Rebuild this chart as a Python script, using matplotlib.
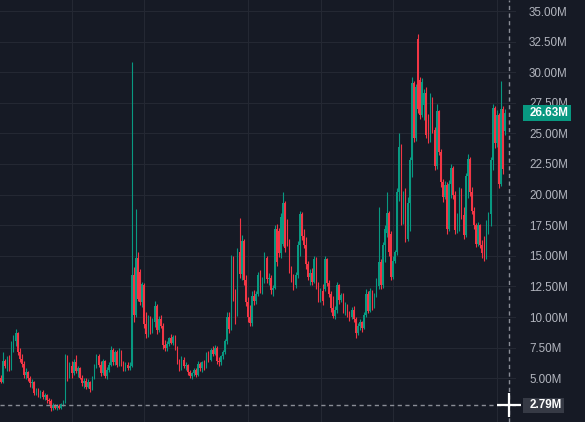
import numpy as np
import matplotlib
matplotlib.use("Agg")
import matplotlib.pyplot as plt
from matplotlib.patches import Rectangle
import matplotlib.transforms as mtransforms

# OHLC values in millions left to right
opens = [5.0, 4.7, 6.4, 6.0, 6.5, 5.8, 7.6, 8.0, 8.7, 7.1, 6.6, 6.2, 5.3, 5.5, 5.0, 4.6, 4.7, 3.8, 4.0, 3.7,
         3.9, 3.5, 3.6, 3.2, 3.1, 2.6, 2.8, 2.6, 2.7, 2.6, 2.9, 3.1,
         6.8, 5.2, 6.0, 5.4, 6.3, 5.6, 5.8, 5.0, 4.6, 4.8, 4.3, 4.7, 4.1, 5.0, 6.0, 6.8, 6.1, 5.4, 6.4, 5.2,
         5.7, 6.1, 7.3, 6.3, 7.1, 6.1, 7.2, 6.2, 5.9, 6.1, 5.8, 6.0, 13.4, 10.2, 14.8, 13.7, 11.2, 12.6, 9.4, 8.6,
         9.9, 8.9, 9.6, 10.9, 8.9, 9.8, 9.3, 7.7, 7.5, 7.8, 8.3, 7.9, 8.4, 7.5, 6.4, 5.8, 6.5, 6.0, 6.1, 5.5,
         5.2, 5.4, 5.7, 5.3, 6.2, 5.8, 6.3, 5.9, 6.9, 6.5, 7.3, 7.0, 7.5, 6.4, 6.3, 6.8, 7.1, 8.0, 10.0, 9.0,
         14.6, 11.6, 10.3, 15.3, 13.5, 16.2, 13.0, 11.2, 10.0, 9.5, 11.7, 11.3, 11.9, 13.4, 12.3, 13.0, 14.8, 13.1,
         13.2, 12.2, 12.4, 17.2, 17.0, 15.2, 16.0, 19.3, 17.8, 16.1, 13.9, 13.2, 12.6, 13.4, 15.9, 18.4, 16.6, 15.9,
         14.3, 13.3, 13.6, 12.9, 14.7, 12.6, 11.5, 12.1, 12.3, 14.7, 12.8, 11.9, 10.7, 10.1, 10.6, 12.6, 11.4, 11.8,
         10.6, 10.9, 10.3, 10.0, 10.6, 9.8, 8.7, 9.3, 9.6, 9.1, 10.2, 11.9, 10.5, 12.1, 10.9, 11.8, 12.5, 14.5,
         12.6, 15.9, 16.9, 18.5, 16.8, 13.3, 14.6, 15.3, 20.2, 23.9, 17.8, 19.9, 16.4, 19.3, 22.8, 29.1, 24.6, 32.7,
         29.4, 26.5, 27.3, 28.3, 25.8, 24.5, 27.9, 25.3, 22.3, 26.8, 23.5, 21.0, 19.8, 20.8, 17.2, 20.9, 22.2, 20.0,
         17.1, 18.2, 20.3, 18.3, 16.7, 21.5, 22.9, 20.2, 18.7, 17.5, 16.0, 17.5, 15.9, 15.2, 14.9, 17.6, 18.4, 22.8,
         27.1, 24.2, 26.5, 20.9, 27.0, 25.2]
highs = [5.3, 7.1, 6.6, 6.8, 6.9, 8.0, 8.5, 9.0, 8.8, 7.5, 7.0, 6.4, 5.8, 5.6, 5.2, 4.9, 4.8, 4.2, 4.2, 4.0,
         4.0, 3.8, 3.7, 3.4, 3.3, 3.0, 2.9, 2.9, 2.9, 3.0, 3.2, 7.0,
         6.9, 6.3, 6.4, 6.6, 6.9, 6.0, 5.9, 5.3, 5.0, 5.0, 4.9, 4.8, 5.2, 6.2, 7.0, 7.0, 6.4, 6.6, 6.5, 5.9,
         6.3, 7.6, 7.5, 7.3, 7.3, 7.5, 7.3, 6.4, 6.3, 6.3, 6.3, 30.8, 14.1, 18.8, 15.3, 13.9, 12.9, 12.8, 10.4, 10.2,
         10.1, 9.9, 11.3, 11.1, 10.1, 10.2, 9.5, 8.1, 8.0, 8.4, 8.6, 8.5, 8.5, 7.6, 6.6, 6.8, 6.7, 6.3, 6.2, 5.7,
         5.5, 5.8, 5.8, 6.4, 6.3, 6.4, 6.5, 7.1, 7.2, 7.5, 7.6, 7.7, 7.6, 6.7, 6.9, 7.3, 8.2, 10.4, 10.4, 15.1,
         15.0, 12.3, 15.6, 18.1, 16.7, 16.4, 13.4, 11.6, 11.0, 12.1, 12.2, 12.1, 13.7, 13.8, 13.3, 15.3, 15.0, 13.6,
         13.4, 12.6, 17.5, 17.6, 17.3, 18.5, 20.2, 19.5, 18.0, 16.4, 14.2, 13.5, 13.7, 16.2, 18.7, 18.6, 17.2, 16.5,
         14.6, 13.9, 14.0, 15.0, 14.9, 12.9, 12.4, 12.7, 15.0, 14.8, 13.0, 12.1, 11.7, 10.9, 12.9, 12.7, 12.0, 12.0,
         11.2, 11.1, 10.5, 10.8, 10.9, 10.0, 9.5, 9.8, 9.7, 10.4, 12.3, 12.1, 12.4, 12.2, 12.0, 13.2, 19.0, 14.7,
         16.1, 17.5, 20.2, 18.7, 17.0, 15.0, 15.5, 20.5, 25.0, 24.1, 20.3, 20.5, 19.8, 23.1, 29.6, 29.3, 29.0, 33.1,
         29.6, 29.5, 28.6, 28.8, 26.6, 28.3, 28.0, 25.5, 27.4, 26.9, 23.7, 21.3, 21.1, 21.0, 21.2, 22.5, 22.3, 20.3,
         18.5, 20.6, 20.5, 19.0, 21.8, 23.3, 23.1, 20.6, 19.0, 17.7, 17.8, 17.6, 16.3, 16.6, 17.9, 18.6, 23.1, 27.4,
         27.2, 26.9, 26.7, 29.3, 27.2, 27.0]
lows = [4.6, 4.6, 5.8, 5.6, 5.6, 5.7, 7.1, 7.6, 6.9, 6.3, 5.9, 5.0, 4.9, 4.8, 4.3, 4.2, 3.6, 3.6, 3.5, 3.4,
        3.3, 3.2, 3.0, 2.9, 2.3, 2.4, 2.5, 2.4, 2.5, 2.5, 2.7, 3.0,
        4.8, 5.0, 5.0, 5.3, 5.4, 5.1, 4.9, 4.4, 4.2, 4.1, 4.2, 3.9, 4.0, 4.9, 5.8, 5.9, 5.2, 5.3, 5.0, 4.9,
        5.5, 6.0, 6.1, 6.1, 5.9, 6.0, 6.0, 5.6, 5.6, 5.7, 5.7, 5.9, 9.6, 10.0, 11.3, 11.0, 10.8, 9.1, 8.3, 8.4,
        8.6, 8.7, 9.2, 8.6, 8.8, 9.1, 7.4, 7.2, 7.2, 7.6, 7.8, 7.7, 7.3, 6.2, 5.6, 5.7, 5.8, 5.7, 5.3, 5.0,
        4.9, 5.2, 5.1, 5.2, 5.6, 5.5, 5.7, 5.8, 6.3, 6.4, 6.8, 6.9, 6.2, 6.0, 6.1, 6.6, 7.0, 7.8, 8.7, 8.9,
        11.3, 9.4, 10.1, 13.2, 13.0, 12.6, 10.9, 9.6, 9.3, 9.3, 11.0, 11.1, 11.7, 12.0, 11.9, 12.8, 12.8, 12.6,
        11.9, 11.7, 12.3, 14.2, 14.9, 14.8, 15.8, 15.3, 15.8, 13.6, 12.9, 12.2, 12.4, 13.2, 15.0, 16.3, 15.6, 13.9,
        13.0, 12.6, 12.6, 12.8, 12.3, 11.2, 11.2, 11.0, 12.1, 12.5, 11.6, 10.4, 9.9, 9.8, 10.3, 11.1, 11.2, 10.3,
        10.2, 10.0, 9.7, 9.8, 9.6, 8.3, 8.5, 8.9, 8.8, 9.0, 10.0, 10.3, 10.4, 10.6, 10.7, 11.6, 12.3, 12.3,
        12.4, 14.5, 16.5, 15.0, 13.0, 13.1, 14.4, 15.1, 19.5, 17.5, 17.6, 16.1, 16.2, 17.0, 21.4, 24.3, 24.4, 26.7,
        26.2, 26.3, 26.1, 24.6, 24.2, 24.3, 25.0, 22.0, 22.1, 23.2, 20.6, 19.4, 19.6, 16.8, 17.0, 19.7, 19.6, 16.8,
        16.9, 17.0, 18.0, 16.4, 16.5, 19.7, 19.9, 18.4, 17.2, 15.7, 15.8, 15.6, 14.8, 14.6, 14.7, 16.8, 17.4, 22.0,
        23.8, 23.9, 20.5, 20.7, 21.7, 24.9]
closes = [4.7, 6.4, 6.0, 6.5, 5.8, 7.6, 8.0, 8.7, 7.1, 6.6, 6.2, 5.3, 5.5, 5.0, 4.6, 4.7, 3.8, 4.0, 3.7, 3.9,
          3.5, 3.6, 3.2, 3.1, 2.6, 2.8, 2.6, 2.7, 2.6, 2.9, 3.1, 6.8,
          5.2, 6.0, 5.4, 6.3, 5.6, 5.8, 5.0, 4.6, 4.8, 4.3, 4.7, 4.1, 5.0, 6.0, 6.8, 6.1, 5.4, 6.4, 5.2, 5.7,
          6.1, 7.3, 6.3, 7.1, 6.1, 7.2, 6.2, 5.9, 6.1, 5.8, 6.0, 13.4, 10.2, 14.8, 11.5, 11.2, 12.7, 9.4, 8.6, 9.9,
          8.9, 9.6, 10.9, 8.9, 9.8, 9.3, 7.7, 7.5, 7.8, 8.3, 7.9, 8.4, 7.5, 6.4, 5.8, 6.5, 6.0, 6.1, 5.5, 5.2,
          5.4, 5.7, 5.3, 6.2, 5.8, 6.3, 5.9, 6.9, 6.5, 7.3, 7.0, 7.5, 6.4, 6.3, 6.8, 7.1, 8.0, 10.0, 9.0, 14.6,
          11.6, 9.9, 15.3, 13.5, 16.2, 13.0, 11.2, 10.0, 9.5, 11.7, 11.3, 11.9, 13.4, 12.3, 13.0, 14.8, 13.1, 13.2,
          12.2, 12.4, 17.2, 14.5, 15.2, 18.2, 19.3, 15.6, 16.1, 13.9, 13.2, 12.6, 13.4, 15.9, 18.4, 16.6, 15.9, 14.3,
          13.3, 13.6, 12.9, 14.7, 12.6, 11.5, 12.1, 11.3, 14.7, 12.8, 11.9, 10.7, 10.1, 10.6, 12.6, 11.4, 11.8, 10.6,
          10.9, 10.3, 10.0, 10.6, 9.8, 8.7, 9.3, 9.6, 9.1, 10.2, 11.9, 10.5, 12.1, 10.9, 11.8, 13.0, 14.5, 12.6,
          15.9, 17.2, 18.5, 15.3, 13.3, 14.6, 15.3, 20.2, 23.9, 17.8, 19.9, 16.4, 19.3, 22.8, 29.1, 24.6, 28.8, 27.0,
          26.5, 29.2, 28.3, 24.9, 24.5, 27.9, 25.3, 22.3, 26.8, 23.5, 21.0, 19.8, 20.8, 17.2, 20.9, 22.2, 20.0, 17.1,
          18.2, 20.3, 18.3, 16.7, 21.5, 22.9, 20.2, 18.7, 17.5, 16.0, 17.5, 15.9, 15.2, 14.9, 17.6, 18.4, 22.8, 27.1,
          24.2, 26.5, 20.9, 27.0, 22.1, 26.63]

price_ticks = [5.0, 7.5, 10.0, 12.5, 15.0, 17.5, 20.0, 22.5, 25.0, 27.5, 30.0, 32.5, 35.0]
last_price = 26.63
cursor_price = 2.79

# colours (TradingView dark)
bg = "#161a25"
grid_col = "#242833"
up_col = "#089981"
down_col = "#f23645"
text_col = "#b2b5be"
dash_col = "#8a8d96"

W, H = 585, 422
axes_w = 516          # pixel width of plot pane, rest is the price scale
px_per_bar = 2.074
px_per_unit = 30.6 / 2.5   # pixels per million

fig = plt.figure(figsize=(W / 100, H / 100), dpi=100, facecolor=bg)
ax = fig.add_axes([0, 0, axes_w / W, 1])
ax.set_facecolor(bg)

n = len(closes)
x = np.arange(n)
o = np.array(opens)
c = np.array(closes)
hi = np.array(highs)
lo = np.array(lows)
colors = np.where(c >= o, up_col, down_col)

# wicks and bodies
ax.vlines(x, lo, hi, colors=colors, linewidth=0.8, zorder=3)
body_h = np.maximum(np.abs(c - o), 0.08)
ax.bar(x, body_h, bottom=np.minimum(o, c), width=0.72, color=colors, linewidth=0, zorder=4)

# axis ranges so that 1 bar ~ 2.07 px
x0 = -0.5
ax.set_xlim(x0, x0 + axes_w / px_per_bar)
y_top = 35.0 + 11 / px_per_unit
ax.set_ylim(y_top - H / px_per_unit, y_top)

# grid
grid_px = [72, 144, 248, 321, 393, 497.5]
ax.set_xticks([p / px_per_bar + x0 for p in grid_px])
ax.set_yticks(price_ticks)
ax.grid(True, color=grid_col, linewidth=0.8, zorder=0)
ax.tick_params(axis="x", length=0, labelbottom=False)
ax.tick_params(axis="y", length=0, left=False, labelleft=False, labelright=True,
               pad=9.4, labelsize=8.4, labelcolor=text_col)
ax.set_yticklabels([f"{v:.2f}M" for v in price_ticks], fontfamily="Liberation Sans")
for s in ax.spines.values():
    s.set_visible(False)

# crosshair
cross_x = 509 / px_per_bar + x0
ax.axvline(cross_x, color=dash_col, linewidth=1, linestyle=(0, (3, 2.5)), zorder=5)
ax.axhline(cursor_price, color=dash_col, linewidth=1, linestyle=(0, (3, 2.5)), zorder=5)
arm_x = 12 / px_per_bar
arm_y = 12 / px_per_unit
ax.plot([cross_x - arm_x, cross_x + arm_x], [cursor_price, cursor_price], color="white",
        linewidth=1.6, zorder=8, clip_on=False, solid_capstyle="butt")
ax.plot([cross_x, cross_x], [cursor_price - arm_y, cursor_price + arm_y], color="white",
        linewidth=1.6, zorder=8, clip_on=False, solid_capstyle="butt")

# price labels on the scale
trans = mtransforms.blended_transform_factory(ax.transAxes, ax.transData)


def price_label(value, face, width_px, height_px):
    left = 523 / axes_w
    rect = Rectangle((left, value - height_px / 2 / px_per_unit), width_px / axes_w, height_px / px_per_unit,
                     transform=trans, facecolor=face, edgecolor="none", clip_on=False, zorder=10)
    ax.add_patch(rect)
    ax.text(529.5 / axes_w, value, f"{value:.2f}M", transform=trans, ha="left", va="center",
            color="white", fontsize=8.4, fontfamily="Liberation Sans", fontweight="bold",
            clip_on=False, zorder=11)


price_label(last_price, up_col, 48, 16)
price_label(cursor_price, "#363a45", 41, 15)

fig.savefig("out.png", dpi=100, facecolor=bg)
